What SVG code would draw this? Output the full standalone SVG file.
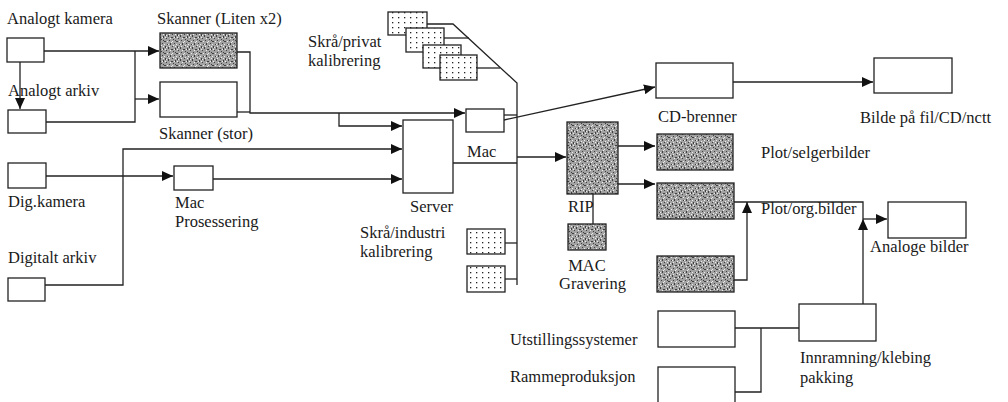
<svg xmlns="http://www.w3.org/2000/svg" width="1008" height="402" viewBox="0 0 1008 402" font-family="'Liberation Serif', serif">
<style>
text{font-family:"Liberation Serif",serif;font-size:16.5px;fill:#1a1a1a}
.b{fill:#fff;stroke:#222;stroke-width:1.3}
.n{fill:url(#noise);stroke:#222;stroke-width:1.3}
.d{fill:url(#dots);stroke:#222;stroke-width:1.3}
.c path{fill:none;stroke:#222;stroke-width:1.3}
.c path.a{marker-end:url(#ah)}
</style>
<defs>
<marker id="ah" markerUnits="userSpaceOnUse" markerWidth="12" markerHeight="10" refX="11" refY="5" orient="auto">
<path d="M0,0 L11,5 L0,10 Z" fill="#111"/>
</marker>
<pattern id="noise" patternUnits="userSpaceOnUse" width="12" height="12">
<rect width="12" height="12" fill="#a2a2a2"/>
<g fill="#3f3f3f">
<rect x="0" y="0" width="1" height="1"/><rect x="3" y="1" width="2" height="1"/><rect x="7" y="0" width="1" height="2"/><rect x="10" y="2" width="1" height="1"/>
<rect x="1" y="4" width="1" height="1"/><rect x="5" y="3" width="1" height="1"/><rect x="8" y="5" width="2" height="1"/><rect x="2" y="7" width="1" height="2"/>
<rect x="6" y="7" width="1" height="1"/><rect x="11" y="8" width="1" height="1"/><rect x="4" y="10" width="1" height="1"/><rect x="9" y="10" width="1" height="2"/>
<rect x="0" y="11" width="1" height="1"/><rect x="7" y="4" width="1" height="1"/>
</g>
<g fill="#ececec">
<rect x="2" y="2" width="1" height="1"/><rect x="9" y="1" width="1" height="1"/><rect x="4" y="5" width="1" height="1"/><rect x="11" y="5" width="1" height="1"/>
<rect x="0" y="8" width="1" height="1"/><rect x="8" y="8" width="1" height="1"/><rect x="5" y="9" width="1" height="1"/><rect x="1" y="10" width="1" height="1"/>
<rect x="10" y="11" width="1" height="1"/><rect x="6" y="1" width="1" height="1"/><rect x="3" y="6" width="1" height="1"/><rect x="7" y="10" width="1" height="1"/>
</g>
</pattern>
<pattern id="dots" patternUnits="userSpaceOnUse" width="6" height="5">
<rect width="6" height="5" fill="#fff"/>
<rect x="2" y="2" width="1.3" height="1.3" fill="#222"/>
</pattern>
</defs>

<g class="c" id="connectors">
<path class="a" d="M20,62 V109"/>
<path class="a" d="M44,51 H159"/>
<path d="M46,122 H135 V51"/>
<path class="a" d="M135,99 H159"/>
<path d="M237,112 H250"/>
<path class="a" d="M237,52 H250 V113 H465"/>
<path class="a" d="M339,113 V126 H402"/>
<path class="a" d="M45,285 H123 V149 H402"/>
<path class="a" d="M46,176 H173"/>
<path class="a" d="M213,179 H402"/>
<path d="M453,163 H517"/>
<path d="M427,24 H453 L517,83 V285"/>
<path d="M444,38 H469"/>
<path d="M477,68 H500"/>
<path d="M504,115 H517"/>
<path class="a" d="M504,120 L655,87"/>
<path class="a" d="M517,157 H566"/>
<path d="M505,243 H517"/>
<path d="M505,279 H517"/>
<path class="a" d="M618,146 H655"/>
<path class="a" d="M618,184 H655"/>
<path d="M593,194 V224"/>
<path class="a" d="M733,82 H873"/>
<path d="M734,202 H863 V219"/>
<path class="a" d="M863,304 V219"/>
<path class="a" d="M863,219 H887"/>
<path class="a" d="M734,280 H747 V202"/>
<path d="M735,328 H799"/>
<path d="M735,392 H761 V328"/>
</g>

<g id="analogt-kamera"><rect class="b" x="7" y="38" width="37" height="24"/><text x="7" y="24">Analogt kamera</text></g>
<g id="analogt-arkiv"><rect class="b" x="8" y="110" width="38" height="23"/><text x="8" y="96">Analogt arkiv</text></g>
<g id="skanner-liten"><rect class="n" x="160" y="33" width="77" height="35"/><text x="157" y="24">Skanner (Liten x2)</text></g>
<g id="skanner-stor"><rect class="b" x="160" y="82" width="77" height="35"/><text x="159" y="139">Skanner (stor)</text></g>
<g id="dig-kamera"><rect class="b" x="8" y="163" width="38" height="25"/><text x="8" y="207">Dig.kamera</text></g>
<g id="mac-prosessering"><rect class="b" x="174" y="166" width="39" height="24"/><text x="175" y="208">Mac</text><text x="175" y="227">Prosessering</text></g>
<g id="digitalt-arkiv"><rect class="b" x="8" y="278" width="37" height="23"/><text x="8" y="263">Digitalt arkiv</text></g>
<g id="skra-privat">
<rect class="d" x="388" y="12" width="39" height="23"/>
<rect class="d" x="406" y="28" width="38" height="24"/>
<rect class="d" x="423" y="45" width="38" height="23"/>
<rect class="d" x="440" y="55" width="37" height="25"/>
<text x="308" y="47">Skrå/privat</text><text x="308" y="66">kalibrering</text>
</g>
<g id="server"><rect class="b" x="403" y="120" width="50" height="73"/><text x="410" y="212">Server</text></g>
<g id="mac"><rect class="b" x="466" y="109" width="38" height="23"/><text x="467" y="157">Mac</text></g>
<g id="skra-industri">
<rect class="d" x="467" y="229" width="38" height="25"/>
<rect class="d" x="467" y="266" width="38" height="26"/>
<text x="360" y="238">Skrå/industri</text><text x="360" y="257">kalibrering</text>
</g>
<g id="rip"><rect class="n" x="567" y="122" width="51" height="72"/><text x="568" y="212">RIP</text></g>
<g id="mac-gravering"><rect class="n" x="568" y="224" width="38" height="26"/><text x="587" y="271" text-anchor="middle">MAC</text><text x="559" y="289">Gravering</text></g>
<g id="cd-brenner"><rect class="b" x="656" y="63" width="77" height="35"/><text x="658" y="122">CD-brenner</text></g>
<g id="bilde"><rect class="b" x="874" y="58" width="78" height="35"/><text x="860" y="123">Bilde på fil/CD/nctt</text></g>
<g id="plot-selgerbilder"><rect class="n" x="657" y="134" width="76" height="36"/><text x="761" y="158">Plot/selgerbilder</text></g>
<g id="plot-org"><rect class="n" x="657" y="183" width="77" height="36"/><text x="761" y="214">Plot/org.bilder</text></g>
<g id="plot-3"><rect class="n" x="657" y="256" width="77" height="36"/></g>
<g id="analoge-bilder"><rect class="b" x="888" y="202" width="78" height="36"/><text x="870" y="252">Analoge bilder</text></g>
<g id="utstillingssystemer"><rect class="b" x="658" y="311" width="77" height="36"/><text x="510" y="345">Utstillingssystemer</text></g>
<g id="rammeproduksjon"><rect class="b" x="658" y="367" width="77" height="40"/><text x="510" y="382">Rammeproduksjon</text></g>
<g id="innramning"><rect class="b" x="799" y="304" width="77" height="37"/><text x="800" y="363">Innramning/klebing</text><text x="800" y="383">pakking</text></g>
</svg>
